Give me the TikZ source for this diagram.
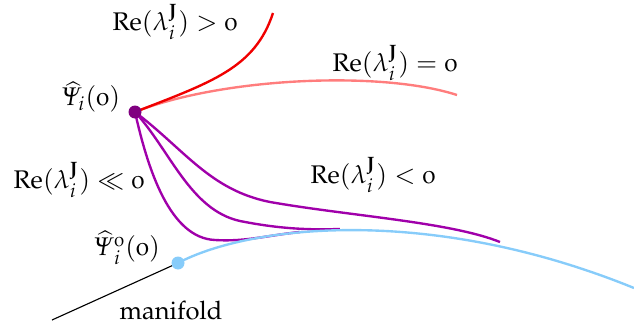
\documentclass[tikz,border=0pt]{standalone}
\usepackage[T1]{fontenc}
\usepackage[osf,slantedGreek]{mathpazo}
\usepackage{amsmath,amssymb}
\definecolor{redA}{RGB}{240,0,0}
\definecolor{redB}{RGB}{255,125,125}
\definecolor{purpA}{RGB}{160,0,170}
\definecolor{purpDot}{RGB}{128,0,128}
\definecolor{skyA}{RGB}{135,204,250}
\newcommand{\oz}{\text{0}}
\begin{document}
\begin{tikzpicture}[x=0.4pt,y=-0.4pt,
  lbl/.style={inner sep=0pt,font=\fontsize{10.2}{12}\selectfont},
  curve/.style={line width=0.95pt},
  pcurve/.style={curve,draw=purpA},
  dotmark/.style={circle,inner sep=0pt,minimum size=5.2pt}]
\useasboundingbox (0,0) rectangle (634,333);
\coordinate (psi) at (135,112);
\coordinate (psi0) at (178,263);
\coordinate (mf) at (52,320);
% red curves
\draw[curve,redB] (psi) .. controls (220,78) and (380,70) .. (457,95) coordinate (eqend);
\draw[curve,redA] (psi) .. controls (212,82) and (255,68) .. (273,13) coordinate (gtend);
% purple curves
\draw[pcurve] (psi) .. controls (148,170) and (170,238) .. (215,240) .. controls (245,242) and (270,235) .. (300,232);
\draw[pcurve] (psi) .. controls (170,150) and (190,210) .. (240,221) .. controls (280,229) and (310,230) .. (340,229);
\draw[pcurve] (psi) .. controls (185,150) and (210,190) .. (270,202) .. controls (350,216) and (450,222) .. (500,242);
% manifold
\draw[curve,skyA] (psi0) .. controls (250,225) and (430,205) .. (634,288) coordinate (mfend);
\draw[line width=0.45pt,black] (mf) -- (psi0);
% dots
\node[dotmark,fill=purpDot] (dpsi) at (psi) {};
\node[dotmark,fill=skyA] (dpsi0) at (psi0) {};
% labels
\node[lbl] (lgt) at (175,22) {$\mathrm{Re}(\lambda_i^{\mathbf{J}}) > \oz$};
\node[lbl] (leq) at (395,63) {$\mathrm{Re}(\lambda_i^{\mathbf{J}}) = \oz$};
\node[lbl] (llt) at (373,175) {$\mathrm{Re}(\lambda_i^{\mathbf{J}}) < \oz$};
\node[lbl] (lll) at (79,180) {$\mathrm{Re}(\lambda_i^{\mathbf{J}}) \ll \oz$};
\node[lbl] (lpsi) at (91,97) {$\widehat{\Psi}_i(\oz)$};
\node[lbl] (lpsi0) at (127,248) {$\widehat{\Psi}{}_i^{\oz}(\oz)$};
\node[lbl] (lmf) at (171,311) {manifold};
\end{tikzpicture}
\end{document}
